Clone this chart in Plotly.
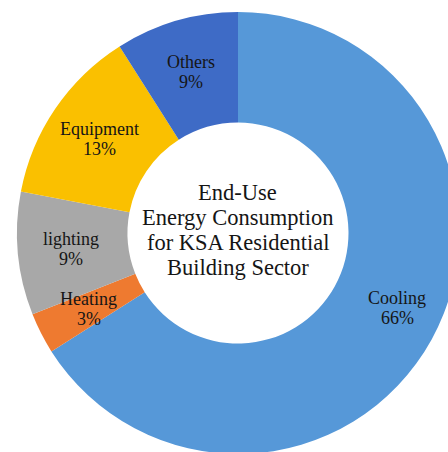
import math
import plotly.graph_objects as go

# End-use shares of residential energy consumption
categories = ["Cooling", "Heating", "lighting", "Equipment", "Others"]
shares = [66, 3, 9, 13, 9]
colors = ["#5698D8", "#EE7A30", "#A8A8A8", "#FAC000", "#3E6BC6"]
center_title = ["End-Use", "Energy Consumption", "for KSA Residential", "Building Sector"]

W, H = 470, 460
cx, cy, r = 238, 233, 221  # ring centre and outer radius in pixels
hole = 0.5

fig = go.Figure(
    go.Pie(
        labels=categories,
        values=shares,
        sort=False,
        direction="clockwise",
        rotation=0,
        hole=hole,
        marker=dict(colors=colors, line=dict(width=0)),
        textinfo="none",
        domain=dict(x=[(cx - r) / W, (cx + r) / W], y=[(H - cy - r) / H, (H - cy + r) / H]),
        showlegend=False,
        hoverinfo="label+percent",
    )
)

# slice labels at the middle of each slice, halfway across the ring
label_font = dict(family="Liberation Serif", size=18, color="#151515")
total = sum(shares)
acc = 0.0
ring_mid = r * (1 + hole) / 2 + 2
for name, val in zip(categories, shares):
    mid = (acc + val / 2) / total * 2 * math.pi
    acc += val
    px = cx + ring_mid * math.sin(mid)
    py = cy - ring_mid * math.cos(mid)
    if name == "Cooling":
        px += 12
        py -= 6
    for text, shift in ((name, 10), (f"{val}%", -10)):
        fig.add_annotation(
            text=text, x=px / W, y=1 - py / H, xref="paper", yref="paper",
            xanchor="center", yanchor="middle",
            yshift=shift, showarrow=False, font=label_font,
        )

# centre title, one annotation per line for tight spacing
title_font = dict(family="Liberation Serif", size=22.5, color="#151515")
n = len(center_title)
for i, line in enumerate(center_title):
    ly = cy - 3 + (i - (n - 1) / 2) * 25
    fig.add_annotation(
        text=line, x=cx / W, y=1 - ly / H, xref="paper", yref="paper",
        xanchor="center", yanchor="middle",
        showarrow=False, font=title_font,
    )

fig.update_layout(
    width=W, height=H,
    margin=dict(l=0, r=0, t=0, b=0),
    paper_bgcolor="white",
)

fig.write_html(
    "out.html",
    post_script="document.body.style.margin='0';document.body.style.overflow='hidden';document.documentElement.style.overflow='hidden';",
)
